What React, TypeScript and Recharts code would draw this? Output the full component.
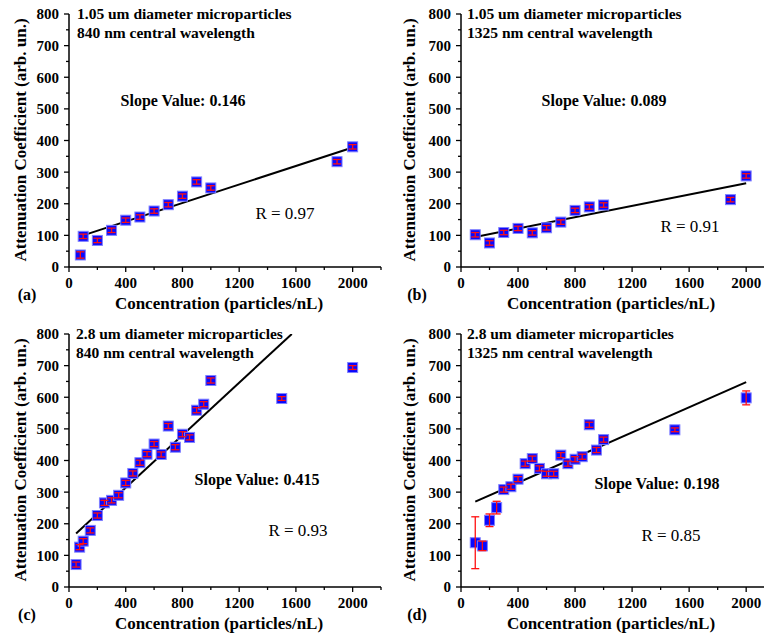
import React from 'react'
import { ScatterChart, Scatter, XAxis, YAxis, ErrorBar } from 'recharts'

// (a) 1.05 um particles, 840 nm
const concA = [80, 100, 200, 300, 400, 500, 600, 700, 800, 900, 1000, 1890, 2000]
const attA = [38, 97, 84, 116, 148, 158, 177, 197, 224, 269, 250, 333, 380]
const errA = [10, 7, 7, 7, 7, 7, 7, 7, 7, 7, 7, 7, 7]
const fitXA = [100, 2000]
const fitYA = [100, 378]

// (b) 1.05 um particles, 1325 nm
const concB = [100, 200, 300, 400, 500, 600, 700, 800, 900, 1000, 1890, 2000]
const attB = [102, 76, 109, 122, 108, 124, 142, 179, 190, 196, 213, 288]
const errB = [7, 7, 7, 7, 7, 7, 7, 7, 7, 7, 7, 7]
const fitXB = [100, 2000]
const fitYB = [95, 265]

// (c) 2.8 um particles, 840 nm
const concC = [50, 75, 100, 150, 200, 250, 300, 350, 400, 450, 500, 550, 600, 650, 700, 750, 800, 850, 900, 950, 1000, 1500, 2000]
const attC = [71, 126, 145, 179, 226, 266, 274, 290, 329, 359, 393, 420, 452, 419, 509, 442, 483, 473, 559, 578, 653, 596, 694]
const errC = [8, 8, 8, 8, 8, 8, 8, 8, 8, 8, 8, 8, 8, 8, 8, 8, 8, 8, 8, 8, 8, 6, 6]
const fitXC = [50, 1571]
const fitYC = [169, 800]

// (d) 2.8 um particles, 1325 nm
const concD = [100, 150, 200, 250, 300, 350, 400, 450, 500, 550, 600, 650, 700, 750, 800, 850, 900, 950, 1000, 1500, 2000]
const attD = [140, 130, 211, 251, 308, 317, 341, 390, 406, 375, 358, 358, 417, 390, 404, 412, 513, 433, 466, 497, 598]
const errD = [82, 15, 20, 20, 8, 8, 8, 8, 8, 8, 8, 8, 8, 8, 8, 8, 8, 8, 8, 6, 22]
const fitXD = [100, 2000]
const fitYD = [270, 648]

const yTicks = [0, 50, 100, 150, 200, 250, 300, 350, 400, 450, 500, 550, 600, 650, 700, 750, 800]
const xTicksLong = [0, 200, 400, 600, 800, 1000, 1200, 1400, 1600, 1800, 2000, 2200]
const xTicksShort = [0, 200, 400, 600, 800, 1000, 1200, 1400, 1600, 1800, 2000]

const FONT = "'Liberation Serif', 'Times New Roman', Times, serif"

const zip = (xs: number[], ys: number[], es?: number[]) =>
  xs.map((x, i) => ({ x, y: ys[i], err: es ? es[i] : 0 }))

const Square = (props: any) => {
  const { cx, cy } = props
  return <rect x={cx - 5} y={cy - 5} width={10} height={10} fill="#0808ff" stroke="#7f7fff" strokeWidth={1} />
}
const Nothing = () => <g />

const YTick = (props: any) => {
  const { x, y, payload } = props
  const major = payload.value % 100 === 0
  return (
    <g>
      <line x1={x} x2={x - (major ? 5 : 3)} y1={y} y2={y} stroke="#000" strokeWidth={1.3} />
      {major && (
        <text x={x - 10} y={y} dy="0.36em" textAnchor="end" style={{ fontFamily: FONT, fontWeight: 'bold', fontSize: 15 }} fill="#000">
          {payload.value}
        </text>
      )}
    </g>
  )
}

const XTick = (props: any) => {
  const { x, y, payload } = props
  const major = payload.value % 400 === 0
  return (
    <g>
      <line x1={x} x2={x} y1={y} y2={y + (major ? 5 : 3)} stroke="#000" strokeWidth={1.3} />
      {major && (
        <text x={x} y={y + 21} textAnchor="middle" style={{ fontFamily: FONT, fontWeight: 'bold', fontSize: 15 }} fill="#000">
          {payload.value}
        </text>
      )}
    </g>
  )
}

type PanelProps = {
  left: number
  top: number
  width: number
  axisLeft: number
  xMax: number
  xTicks: number[]
  conc: number[]
  att: number[]
  err: number[]
  fitX: number[]
  fitY: number[]
  title1: string
  title2: string
  titleX: number
  slope: string
  slopePos: [number, number]
  r: string
  rPos: [number, number]
  tag: string
  tagX: number
  xLabelX: number
  yLabelX: number
}

const bold = (size: number) => ({ fontFamily: FONT, fontWeight: 'bold' as const, fontSize: size })

function Panel(p: PanelProps) {
  const data = zip(p.conc, p.att, p.err)
  const fit = zip(p.fitX, p.fitY)
  const w = p.width
  const h = 320
  const errProps: any = { zIndex: 1000 }
  return (
    <div style={{ position: 'absolute', left: p.left, top: p.top, width: w, height: h }}>
      <ScatterChart width={w} height={h} margin={{ top: 14, right: 3, bottom: 0, left: 0 }}>
        <XAxis
          type="number"
          dataKey="x"
          domain={[0, p.xMax]}
          ticks={p.xTicks}
          interval={0}
          height={53}
          tickSize={0}
          tickMargin={0}
          tickLine={false}
          tick={<XTick />}
          axisLine={{ stroke: '#000', strokeWidth: 1.5 }}
          allowDataOverflow
        />
        <YAxis
          type="number"
          dataKey="y"
          domain={[0, 800]}
          ticks={yTicks}
          interval={0}
          width={p.axisLeft}
          tickSize={0}
          tickMargin={0}
          tickLine={false}
          tick={<YTick />}
          axisLine={{ stroke: '#000', strokeWidth: 1.5 }}
          allowDataOverflow
        />
        <Scatter data={fit} line={{ stroke: '#000', strokeWidth: 2 }} shape={<Nothing />} isAnimationActive={false} />
        <Scatter data={data} shape={<Square />} isAnimationActive={false} />
        <Scatter data={data} shape={<Nothing />} isAnimationActive={false}>
          <ErrorBar dataKey="err" direction="y" width={4} stroke="#ff1010" strokeWidth={1.3} {...errProps} />
        </Scatter>
      </ScatterChart>
      <svg width={w} height={h} style={{ position: 'absolute', left: 0, top: 0, pointerEvents: 'none' }}>
        <g fill="#000">
          <text x={p.titleX} y={19} style={bold(15.5)}>{p.title1}</text>
          <text x={p.titleX} y={38} style={bold(15.5)}>{p.title2}</text>
          <text x={p.slopePos[0]} y={p.slopePos[1]} textAnchor="middle" style={bold(16)}>{p.slope}</text>
          <text
            x={p.rPos[0]}
            y={p.rPos[1]}
            textAnchor="middle"
            style={{ fontFamily: "'Liberation Serif', 'DejaVu Serif', serif", fontWeight: 400, fontSize: 17 }}
          >
            {p.r}
          </text>
          <text x={p.tagX} y={300} textAnchor="middle" style={bold(16)}>{p.tag}</text>
          <text x={p.xLabelX} y={309} textAnchor="middle" style={bold(17)}>Concentration (particles/nL)</text>
          <text
            x={p.yLabelX}
            y={140}
            textAnchor="middle"
            dy="0.35em"
            style={bold(17)}
            transform={`rotate(-90 ${p.yLabelX} 140)`}
          >
            Attenuation Coefficient (arb. un.)
          </text>
        </g>
      </svg>
    </div>
  )
}

export default function App() {
  return (
    <div style={{ position: 'absolute', left: 0, top: 0, width: 767, height: 639, background: '#fff' }}>
      <Panel
        left={0} top={0} width={384} axisLeft={69} xMax={2200} xTicks={xTicksLong}
        conc={concA} att={attA} err={errA} fitX={fitXA} fitY={fitYA}
        title1="1.05 um diameter microparticles" title2="840 nm central wavelength" titleX={77}
        slope="Slope Value: 0.146" slopePos={[183, 106]} r="R = 0.97" rPos={[285, 219]}
        tag="(a)" tagX={27} xLabelX={219} yLabelX={20}
      />
      <Panel
        left={384} top={0} width={383} axisLeft={77} xMax={2125} xTicks={xTicksShort}
        conc={concB} att={attB} err={errB} fitX={fitXB} fitY={fitYB}
        title1="1.05 um diameter microparticles" title2="1325 nm central wavelength" titleX={83}
        slope="Slope Value: 0.089" slopePos={[220, 106]} r="R = 0.91" rPos={[306, 232]}
        tag="(b)" tagX={33} xLabelX={227} yLabelX={25}
      />
      <Panel
        left={0} top={320} width={384} axisLeft={69} xMax={2200} xTicks={xTicksLong}
        conc={concC} att={attC} err={errC} fitX={fitXC} fitY={fitYC}
        title1="2.8 um diameter microparticles" title2="840 nm central wavelength" titleX={76}
        slope="Slope Value: 0.415" slopePos={[257, 165]} r="R = 0.93" rPos={[298, 216]}
        tag="(c)" tagX={27} xLabelX={219} yLabelX={20}
      />
      <Panel
        left={384} top={320} width={383} axisLeft={77} xMax={2125} xTicks={xTicksShort}
        conc={concD} att={attD} err={errD} fitX={fitXD} fitY={fitYD}
        title1="2.8 um diameter microparticles" title2="1325 nm central wavelength" titleX={83}
        slope="Slope Value: 0.198" slopePos={[273, 169]} r="R = 0.85" rPos={[287, 221]}
        tag="(d)" tagX={33} xLabelX={227} yLabelX={25}
      />
    </div>
  )
}
